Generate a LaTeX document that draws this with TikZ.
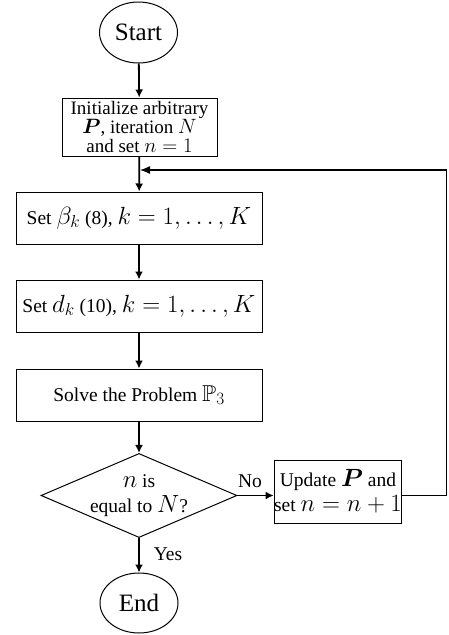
\documentclass[tikz,border=0pt]{standalone}
\usepackage{amsmath,amssymb}
\usepackage{fontspec}
\setmainfont{Liberation Serif}
\DeclareMathSizes{19.5}{23}{16}{12}
\DeclareMathSizes{19}{22}{16}{12}
\DeclareMathSizes{25}{25}{18}{14}
\usetikzlibrary{shapes.geometric,arrows.meta}
\begin{document}
\begin{tikzpicture}[x=1pt,y=-1pt,
  term/.style={draw,ellipse,line width=1pt,inner sep=0pt,minimum width=78pt,minimum height=61pt,font=\fontsize{25}{30}\selectfont},
  proc/.style={draw,rectangle,line width=1pt,inner sep=0pt,align=center,font=\fontsize{19.5}{17}\selectfont},
  dec/.style={draw,diamond,line width=1pt,inner sep=0pt,shape aspect=2.33,minimum width=184pt,minimum height=79pt,align=center,font=\fontsize{19.5}{25}\selectfont},
  arr/.style={line width=1.8pt,-{Latex[length=8pt,width=8pt]}},
  lab/.style={font=\fontsize{19.5}{19}\selectfont,inner sep=0pt}]
\useasboundingbox (0,0) rectangle (448,635);
\node[term] (start) at (138.5,32.5) {Start};
\node[proc,minimum width=155pt,minimum height=58pt,font=\fontsize{19}{18}\selectfont] (init) at (139.5,127) {Initialize arbitrary\\$\boldsymbol{P}$, iteration $N$\\[1pt]and set $n=1$};
\node[proc,minimum width=246pt,minimum height=52pt] (beta) at (139,218) {Set $\beta_k$ (8), $k=1,\ldots,K$};
\node[proc,minimum width=246pt,minimum height=52pt] (dk) at (139,306) {Set $d_k$ (10), $k=1,\ldots,K$};
\node[proc,minimum width=246pt,minimum height=52pt] (solve) at (139,395) {Solve the Problem $\mathbb{P}_3$};
\node[dec] (dia) at (139,495.5) {$n$ is\\equal to $N$?};
\node[proc,minimum width=124pt,minimum height=63pt,font=\fontsize{19.5}{25}\selectfont] (upd) at (338,491.5) {Update $\boldsymbol{P}$ and\\set $n=n+1$};
\node[term,minimum height=60pt] (end) at (139,603) {End};
\node[lab] (no) at (250,481) {No};
\node[lab] (yes) at (168,554) {Yes};
\coordinate (fbr) at (446.5,170);
\coordinate (fbl) at (140,170);
\draw[arr] (start) -- (init);
\draw[arr] (init) -- (beta);
\draw[arr] (beta) -- (dk);
\draw[arr] (dk) -- (solve);
\draw[arr] (solve) -- (dia);
\draw[arr] (dia) -- (end);
\draw[arr] (dia.east) -- (dia.east -| upd.west);
\draw[line width=1.3pt,-{Latex[length=10pt,width=8pt]}] (upd.east |- dia.east) -- (fbr |- dia.east) -- (fbr) -- (fbl);
\end{tikzpicture}
\end{document}
